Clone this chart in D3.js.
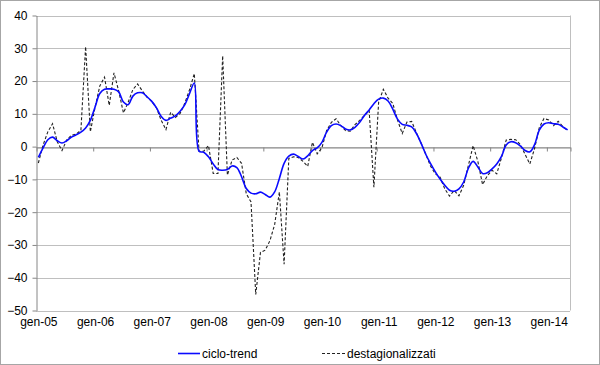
<!DOCTYPE html>
<html>
<head>
<meta charset="utf-8">
<script src="https://cdn.jsdelivr.net/npm/d3@7"></script>
<style>
  body { margin: 0; background: #fff; }
  svg { font-family: "Liberation Sans", Arial, sans-serif; }
</style>
</head>
<body>
<svg width="600" height="365"></svg>
<script>
const width = 600;
const height = 365;

// monthly values, gen-05 .. mag-14
const trend = [
  -3.3, -0.4, 2.1, 2.9, 1.8, 1.1, 1.8, 2.9, 3.6, 4.4, 5.7, 8.0,
  12.1, 16.2, 17.5, 17.6, 17.5, 16.7, 13.6, 12.8, 15.4, 16.4, 16.4, 15.2,
  13.8, 11.8, 9.2, 8.0, 8.7, 9.4, 10.8, 12.8, 16.2, 19.4, -1.4, -1.7,
  -3.1, -5.3, -7.0, -7.2, -7.0, -5.9, -6.4, -9.2, -12.8, -14.2, -14.4, -13.9,
  -14.6, -15.4, -13.8, -9.7, -5.1, -2.9, -2.3, -3.0, -3.8, -2.8, -1.2, -0.4,
  1.3, 4.4, 6.4, 6.9, 6.4, 5.4, 5.1, 5.9, 7.4, 9.5, 11.2, 13.1,
  14.5, 14.8, 13.9, 11.4, 8.4, 6.8, 6.5, 6.0, 4.0, 1.0, -2.4, -5.2,
  -7.7, -9.9, -11.8, -13.3, -13.6, -12.9, -10.8, -6.6, -4.5, -6.2, -8.2, -8.0,
  -6.8, -5.3, -3.0, 0.5, 1.5, 1.2, 0.2, -1.2, -1.6, 0.6, 5.0, 6.9,
  7.3, 7.0, 6.8, 6.0, 5.1
];

const destag = [
  -5.0, 0.5, 4.5, 7.0, 1.5, -1.2, 2.0, 3.5, 3.8, 5.0, 30.5, 4.5,
  12.0, 18.5, 21.2, 12.6, 22.5, 17.0, 10.3, 13.5, 17.4, 19.1, 17.0, 15.1,
  13.8, 11.8, 8.0, 5.2, 10.5, 8.9, 10.1, 13.3, 17.4, 22.3, -1.4, -1.4,
  0.3, -8.2, -8.2, 27.7, -8.7, -4.1, -3.3, -5.1, -14.4, -16.9, -45.1, -32.3,
  -31.6, -28.7, -23.8, -13.8, -35.9, -3.6, -3.1, -3.3, -4.5, -6.0, 1.3, -2.2,
  -0.4, 4.9, 7.4, 8.5, 6.4, 4.9, 4.7, 6.7, 8.0, 9.5, 11.0, -12.4,
  13.5, 17.5, 14.8, 13.2, 8.1, 4.0, 7.5, 7.7, 4.2, 1.0, -2.4, -6.0,
  -8.3, -9.3, -12.9, -15.1, -13.4, -15.0, -11.8, -5.7, 0.3, -4.5, -11.6, -8.9,
  -7.2, -8.3, -3.4, 2.0, 2.2, 2.1, 0.6, -2.4, -5.3, -0.6, 5.8, 8.6,
  8.1, 6.4, 7.7, 6.1, 4.9
];

const yearLabels = ["gen-05", "gen-06", "gen-07", "gen-08", "gen-09",
  "gen-10", "gen-11", "gen-12", "gen-13", "gen-14"];
const yTicks = [-50, -40, -30, -20, -10, 0, 10, 20, 30, 40];

const plot = { left: 36, right: 570, top: 15.5, bottom: 310.5 };
const gridColor = "#bfbfbf";

const svg = d3.select("svg");

// outer frame
svg.append("rect")
  .attr("x", 0.5).attr("y", 0.5)
  .attr("width", width - 1).attr("height", height - 1)
  .attr("fill", "#fff")
  .attr("stroke", "#a6a6a6");

const xScale = d3.scaleLinear()
  .domain([0, trend.length])
  .range([plot.left, plot.right]);

const yScale = d3.scaleLinear()
  .domain([-50, 40])
  .range([plot.bottom, plot.top]);

// gridlines
svg.append("g")
  .selectAll("line")
  .data(yTicks)
  .enter()
  .append("line")
  .attr("x1", plot.left)
  .attr("x2", plot.right)
  .attr("y1", d => Math.round(yScale(d)) + 0.5)
  .attr("y2", d => Math.round(yScale(d)) + 0.5)
  .attr("stroke", gridColor);

// right border of plot area
svg.append("line")
  .attr("x1", plot.right + 0.5).attr("x2", plot.right + 0.5)
  .attr("y1", yScale(40)).attr("y2", yScale(-50))
  .attr("stroke", gridColor);

// y axis
const yAxis = d3.axisLeft(yScale)
  .tickValues(yTicks)
  .tickSize(4)
  .tickSizeOuter(0)
  .tickPadding(5);

const gy = svg.append("g")
  .attr("transform", `translate(${plot.left + 0.5},0)`)
  .call(yAxis);
gy.select(".domain").attr("stroke", "#868686");
gy.selectAll(".tick line").attr("stroke", "#868686");
gy.selectAll("text").attr("font-size", 12).attr("fill", "#000")
  .attr("font-family", "Liberation Sans, Arial, sans-serif");

// category axis crossing at zero, ticks between years
const yearStarts = yearLabels.map((d, k) => k * 12);
const xTickAxis = d3.axisBottom(xScale)
  .tickValues(yearStarts.concat([trend.length]))
  .tickFormat("")
  .tickSize(4)
  .tickSizeOuter(0);

const gx = svg.append("g")
  .attr("transform", `translate(0.5,${Math.round(yScale(0)) + 0.5})`)
  .call(xTickAxis);
gx.select(".domain").attr("stroke", "#868686");
gx.selectAll(".tick line").attr("stroke", "#868686");

// year labels at the bottom
const xLabelAxis = d3.axisBottom(xScale)
  .tickValues(yearStarts.map(d => d + 0.5))
  .tickFormat((d, k) => yearLabels[k])
  .tickSize(0)
  .tickPadding(7);

const gl = svg.append("g")
  .attr("transform", `translate(0,${plot.bottom})`)
  .call(xLabelAxis);
gl.select(".domain").remove();
gl.selectAll("text").attr("font-size", 12).attr("fill", "#000")
  .attr("font-family", "Liberation Sans, Arial, sans-serif");

// series
const destagLine = d3.line()
  .x((d, i) => xScale(i + 0.5))
  .y(d => yScale(d));

const trendLine = d3.line()
  .x((d, i) => xScale(i + 0.5))
  .y(d => yScale(d))
  .curve(d3.curveCatmullRom);

svg.append("path")
  .datum(destag)
  .attr("d", destagLine)
  .attr("fill", "none")
  .attr("stroke", "#222")
  .attr("stroke-width", 1.1)
  .attr("stroke-dasharray", "3,2");

svg.append("path")
  .datum(trend)
  .attr("d", trendLine)
  .attr("fill", "none")
  .attr("stroke", "#0a0aff")
  .attr("stroke-width", 1.6);

// Legend
const legend = svg.append("g").attr("id", "legend");

legend.append("line")
  .attr("x1", 178).attr("x2", 200)
  .attr("y1", 353.5).attr("y2", 353.5)
  .attr("stroke", "#0a0aff")
  .attr("stroke-width", 1.6);

legend.append("text")
  .attr("x", 202)
  .attr("y", 357.5)
  .attr("font-size", 12)
  .text("ciclo-trend");

legend.append("line")
  .attr("x1", 322).attr("x2", 346)
  .attr("y1", 353.5).attr("y2", 353.5)
  .attr("stroke", "#222")
  .attr("stroke-dasharray", "3,2");

legend.append("text")
  .attr("x", 347)
  .attr("y", 357.5)
  .attr("font-size", 12)
  .text("destagionalizzati");
</script>
</body>
</html>
